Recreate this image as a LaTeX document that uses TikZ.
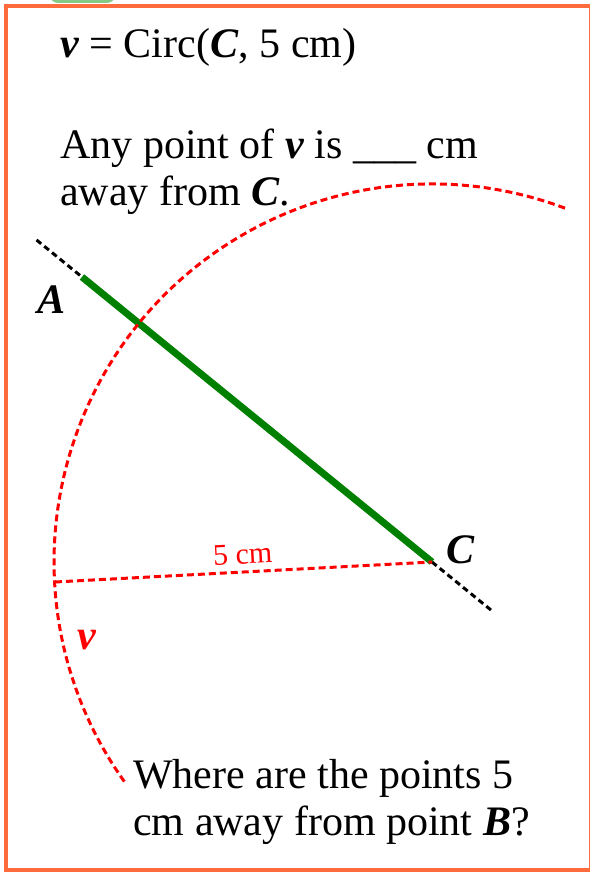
\documentclass[tikz,border=0pt]{standalone}
\usepackage{fontspec}
\setmainfont{Liberation Serif}
\usepackage{pgf,tikz}
\usetikzlibrary{calc}
\definecolor{cornice}{RGB}{255,107,61}
\definecolor{verdeseg}{RGB}{0,128,0}
\definecolor{linguetta}{RGB}{135,200,135}

\begin{document}
\begin{tikzpicture}[x=1pt,y=-1pt,>=stealth,
  testo/.style={inner sep=0pt,font=\fontsize{42}{47}\selectfont,align=left},
  punto/.style={inner sep=0pt,font=\fontsize{42}{47}\selectfont\bfseries\itshape},
  tratteggio/.style={line width=3pt,dash pattern=on 7pt off 4pt}]
\useasboundingbox (0,0) rectangle (589,872);
% cornice con la linguetta verde in alto
\fill[linguetta,rounded corners=8pt] (50,-20) rectangle (115,3);
\draw[cornice,line width=4pt] (5.5,6.5) rectangle (590.5,870);
% testi
\node[testo,anchor=base west] (eq) at (60,58) {\textbf{\textit{v}} = Circ(\textbf{\textit{C}}, 5 cm)};
\node[testo,anchor=base west] (domanda) at (60,205) {Any point of \textbf{\textit{v}} is \_\_\_ cm\\away from \textbf{\textit{C}}.};
\node[testo,anchor=base west] (quesito) at (133,835) {Where are the points 5\\cm away from point \textbf{\textit{B}}?};
% segmento AC con i prolungamenti
\coordinate (A) at (82,277);
\coordinate (C) at (432,562);
\coordinate (A0) at ($(A)!-0.13!(C)$);
\coordinate (C1) at ($(A)!1.17!(C)$);
\draw[tratteggio,dash pattern=on 6pt off 4pt] (A0) -- (A);
\draw[tratteggio,dash pattern=on 6pt off 4pt] (C) -- (C1);
\draw[verdeseg,line width=7pt] (A) -- (C);
% cerchio v di centro C e raggio 5 cm
\coordinate (R) at (55,582);
\draw[red,tratteggio] (C) ++(-69.4:378) arc[start angle=-69.4,end angle=-215.7,radius=378];
\draw[red,tratteggio] (R) -- node[sloped,above=6pt,inner sep=0pt,font=\fontsize{30}{30}\selectfont] (lr) {5 cm} (C);
% etichette dei punti
\node[punto] (lA) at (52,300) {A};
\node[punto] (lC) at (460,550) {C};
\node[punto,red] (lv) at (87,640) {v};
\end{tikzpicture}
\end{document}
